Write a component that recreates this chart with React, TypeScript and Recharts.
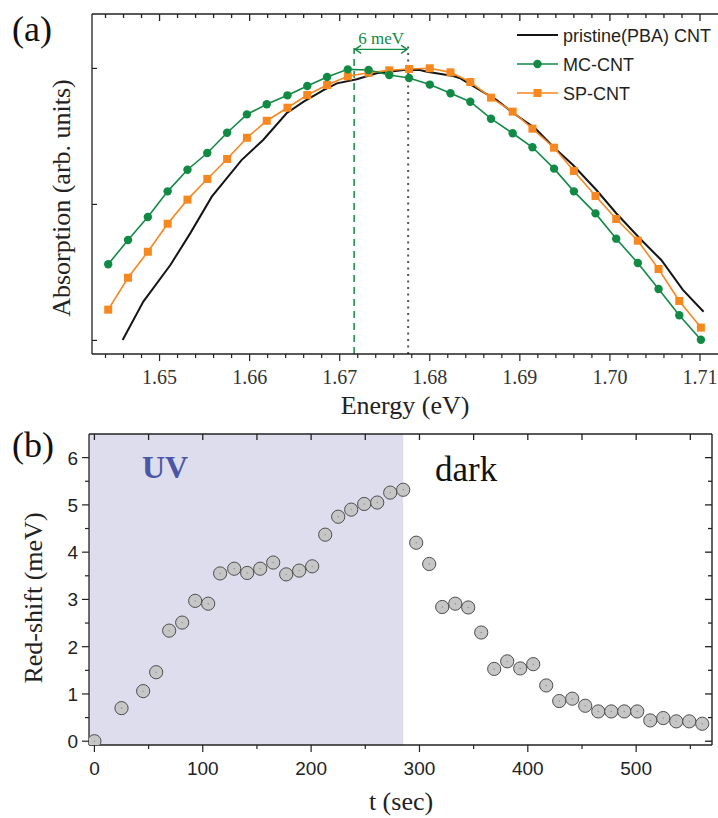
import React from 'react';
import {
    LineChart,
    Line,
    XAxis,
    YAxis,
    ReferenceLine,
    Legend,
    ScatterChart,
    Scatter,
    ReferenceArea
} from 'recharts';

const SERIF = '"Liberation Serif", "Times New Roman", serif';
const SANS = '"Liberation Sans", Arial, sans-serif';
const GREEN = '#118a45';
const ORANGE = '#f7871f';
const BLACK = '#151515';
const AXIS = '#222222';

// ---- (a) absorption spectra ----
const gridEnergy = [
    1.6443, 1.6465, 1.6487, 1.6509, 1.6531, 1.6553, 1.6575, 1.6597, 1.6619, 1.6642,
    1.6664, 1.6686, 1.6709, 1.6732, 1.6755, 1.6777, 1.6800, 1.6823, 1.6845, 1.6868,
    1.6892, 1.6914, 1.6938, 1.6960, 1.6984, 1.7007, 1.7031, 1.7054, 1.7077, 1.7101
];
const mcAbsorption = [
    1.560, 1.738, 1.907, 2.096, 2.255, 2.378, 2.527, 2.662, 2.736, 2.802,
    2.871, 2.937, 2.993, 2.988, 2.951, 2.929, 2.881, 2.817, 2.755, 2.630,
    2.523, 2.420, 2.263, 2.096, 1.934, 1.748, 1.569, 1.378, 1.185, 1.005
];
const spAbsorption = [
    1.226, 1.461, 1.652, 1.858, 2.035, 2.187, 2.334, 2.490, 2.615, 2.711,
    2.804, 2.878, 2.942, 2.968, 2.986, 2.996, 3.001, 2.971, 2.900, 2.785,
    2.682, 2.557, 2.417, 2.246, 2.062, 1.893, 1.733, 1.525, 1.290, 1.094
];
const pristineEnergy = [
    1.6459, 1.6482, 1.6512, 1.6534, 1.6558, 1.6591, 1.6615, 1.6641, 1.6660, 1.6682,
    1.6697, 1.6719, 1.6741, 1.6771, 1.6789, 1.6797, 1.6826, 1.6834, 1.6852, 1.6874,
    1.6893, 1.6917, 1.6937, 1.6959, 1.6985, 1.7007, 1.7033, 1.7057, 1.7081, 1.7104
];
const pristineAbsorption = [
    1.003, 1.285, 1.554, 1.787, 2.057, 2.326, 2.474, 2.670, 2.755, 2.841,
    2.890, 2.920, 2.964, 2.988, 2.988, 2.976, 2.944, 2.927, 2.854, 2.768,
    2.670, 2.560, 2.424, 2.290, 2.106, 1.935, 1.751, 1.591, 1.371, 1.211
];
const energyLabels = [1.65, 1.66, 1.67, 1.68, 1.69, 1.70, 1.71];
const absorptionTicks = [1, 2, 3];
const energyDomain: [number, number] = [1.6425, 1.712];
const absorptionDomain: [number, number] = [0.9, 3.4];
const peakMC = 1.6716;
const peakPristine = 1.6776;

// ---- (b) red-shift vs time ----
const timeSec = [
    0, 25, 45, 57, 69, 81, 93, 105, 116, 129, 141, 153, 165, 177, 189, 201,
    213, 225, 237, 249, 261, 273, 285, 297, 309, 321, 333, 345, 357, 369, 381,
    393, 405, 417, 429, 441, 453, 465, 477, 489, 501, 513, 525, 537, 549, 561
];
const redShift = [
    0, 0.70, 1.06, 1.46, 2.34, 2.51, 2.97, 2.91, 3.55, 3.65, 3.56, 3.65, 3.78, 3.53, 3.61, 3.70,
    4.37, 4.75, 4.90, 5.02, 5.05, 5.26, 5.32, 4.20, 3.75, 2.84, 2.91, 2.83, 2.30, 1.53, 1.69,
    1.54, 1.63, 1.18, 0.85, 0.90, 0.75, 0.63, 0.63, 0.63, 0.63, 0.44, 0.49, 0.42, 0.42, 0.37
];
const uvEnd = 285;
const timeLabels = [0, 100, 200, 300, 400, 500];
const shiftLabels = [0, 1, 2, 3, 4, 5, 6];
const timeDomain: [number, number] = [-5, 570];
const shiftDomain: [number, number] = [-0.08, 6.5];

const energyTicks = Array.from({ length: 34 }, (_, i) => +(1.644 + i * 0.002).toFixed(3));
const timeTicks = Array.from({ length: 12 }, (_, i) => i * 50);
const shiftTicks = Array.from({ length: 13 }, (_, i) => i * 0.5);

const mcData = gridEnergy.map((e, i) => ({ e, v: mcAbsorption[i] }));
const spData = gridEnergy.map((e, i) => ({ e, v: spAbsorption[i] }));
const pristineData = pristineEnergy.map((e, i) => ({ e, v: pristineAbsorption[i] }));
const shiftData = timeSec.map((t, i) => ({ t, s: redShift[i] }));

// plot boxes (page pixels) that follow from the chart sizes and margins below
const boxA = { left: 92, right: 718, top: 14, bottom: 354 };
const boxB = { left: 89, right: 712, top: 434, bottom: 745 };

const isMajorEnergy = (v: number) => energyLabels.some(m => Math.abs(m - v) < 1e-6);
const lerp = (v: number, d: [number, number], a: number, b: number) => a + ((v - d[0]) / (d[1] - d[0])) * (b - a);

const EnergyTickBottom = ({ x, y, payload }: any) => {
    const major = isMajorEnergy(payload.value);
    return (
        <g>
            <line x1={x} x2={x} y1={y} y2={y + (major ? 7 : 4)} stroke={AXIS} strokeWidth={1.2} />
            {major && (
                <text x={x} y={y + 30} textAnchor="middle" fontFamily={SERIF} fontSize={20} fill="#333">
                    {payload.value.toFixed(2)}
                </text>
            )}
        </g>
    );
};

const AbsTickLeft = ({ x, y }: any) => (
    <line x1={x} x2={x + 5} y1={y} y2={y} stroke={AXIS} strokeWidth={1.2} />
);

const TimeTickBottom = ({ x, y, payload }: any) => {
    const major = timeLabels.includes(payload.value);
    return (
        <g>
            <line x1={x} x2={x} y1={y} y2={y + (major ? 7 : 4)} stroke={AXIS} strokeWidth={1.2} />
            {major && (
                <text x={x} y={y + 30} textAnchor="middle" fontFamily={SANS} fontSize={19} fill="#222">
                    {payload.value}
                </text>
            )}
        </g>
    );
};

const ShiftTickLeft = ({ x, y, payload }: any) => {
    const major = shiftLabels.includes(payload.value);
    return (
        <g>
            <line x1={x - (major ? 7 : 4)} x2={x} y1={y} y2={y} stroke={AXIS} strokeWidth={1.2} />
            {major && (
                <text x={x - 11} y={y + 7} textAnchor="end" fontFamily={SANS} fontSize={19} fill="#222">
                    {payload.value}
                </text>
            )}
        </g>
    );
};

const SquareDot = ({ cx, cy, index }: any) => (
    <rect key={`sq-${index}`} x={cx - 4} y={cy - 4} width={8} height={8} fill={ORANGE} />
);

const DoubleArrow = ({ x1, y1, x2, y2 }: any) => (
    <g stroke={GREEN} strokeWidth={1.4} fill="none">
        <line x1={x1 + 1} y1={y1} x2={x2 - 1} y2={y2} />
        <polyline points={`${x1 + 7},${y1 - 4} ${x1 + 1},${y1} ${x1 + 7},${y1 + 4}`} />
        <polyline points={`${x2 - 7},${y2 - 4} ${x2 - 1},${y2} ${x2 - 7},${y2 + 4}`} />
    </g>
);

const legendItems = [
    { name: 'pristine(PBA) CNT', color: BLACK, marker: 'none' },
    { name: 'MC-CNT', color: GREEN, marker: 'circle' },
    { name: 'SP-CNT', color: ORANGE, marker: 'square' }
];

const AbsLegend = () => (
    <svg width={208} height={90}>
        {legendItems.map((item, i) => {
            const cy = 15 + i * 29;
            return (
                <g key={item.name}>
                    <line x1={7} x2={48} y1={cy} y2={cy} stroke={item.color} strokeWidth={item.marker === 'none' ? 2 : 1.6} />
                    {item.marker === 'circle' && <circle cx={27.5} cy={cy} r={4.2} fill={item.color} />}
                    {item.marker === 'square' && <rect x={23.5} y={cy - 4} width={8} height={8} fill={item.color} />}
                    <text x={53} y={cy + 6.5} fontFamily={SANS} fontSize={18} fill="#231f20">{item.name}</text>
                </g>
            );
        })}
    </svg>
);

const ShiftMarker = ({ cx, cy }: any) => (
    <g>
        <circle cx={cx} cy={cy} r={6.6} fill="#c6c6c6" stroke="#4d4d4d" strokeWidth={1} />
        <circle cx={cx} cy={cy} r={0.7} fill="#8a8a8a" />
    </g>
);

const FrameLine = (p: { x1: number; x2: number; y1: number; y2: number; w?: number }) => (
    <path
        d={`M${p.x1},${p.y1}L${p.x2},${p.y2}`}
        stroke={AXIS}
        strokeWidth={p.w ?? 1.3}
        fill="none"
    />
);

// top / right frame of both panels, with inward ticks
const Frames = () => (
    <g>
        <FrameLine x1={boxA.left} x2={boxA.right} y1={boxA.top} y2={boxA.top} w={1.4} />
        {energyTicks.map(v => {
            const x = lerp(v, energyDomain, boxA.left, boxA.right);
            return <FrameLine key={`ea-${v}`} x1={x} x2={x} y1={boxA.top} y2={boxA.top + (isMajorEnergy(v) ? 7 : 4)} />;
        })}
        <FrameLine x1={boxB.left} x2={boxB.right} y1={boxB.top} y2={boxB.top} w={1.4} />
        <FrameLine x1={boxB.right} x2={boxB.right} y1={boxB.top} y2={boxB.bottom} w={1.4} />
        {timeTicks.map(v => {
            const x = lerp(v, timeDomain, boxB.left, boxB.right);
            return <FrameLine key={`tb-${v}`} x1={x} x2={x} y1={boxB.top} y2={boxB.top + 6} />;
        })}
        {shiftTicks.map(v => {
            const y = lerp(v, shiftDomain, boxB.bottom, boxB.top);
            return <FrameLine key={`sb-${v}`} x1={boxB.right} x2={boxB.right - (shiftLabels.includes(v) ? 7 : 4)} y1={y} y2={y} />;
        })}
    </g>
);

const App = () => {
    return (
        <div style={{ position: 'absolute', left: 0, top: 0, width: 718, height: 818, background: '#fff', overflow: 'hidden' }}>
            <div style={{ position: 'absolute', left: 0, top: 0 }}>
                <LineChart width={718} height={400} margin={{ top: 14, right: 0, bottom: 0, left: 0 }}>
                    <XAxis
                        dataKey="e"
                        type="number"
                        domain={energyDomain}
                        allowDataOverflow
                        ticks={energyTicks}
                        interval={0}
                        height={46}
                        tickSize={0}
                        tickMargin={0}
                        tickLine={false}
                        tick={<EnergyTickBottom />}
                        axisLine={{ stroke: AXIS, strokeWidth: 1.3 }}
                    />
                    <YAxis
                        type="number"
                        domain={absorptionDomain}
                        allowDataOverflow
                        ticks={absorptionTicks}
                        width={92}
                        tickSize={0}
                        tickMargin={0}
                        tickLine={false}
                        tick={<AbsTickLeft />}
                        axisLine={{ stroke: AXIS, strokeWidth: 1.3 }}
                    />
                    <ReferenceLine
                        segment={[{ x: peakMC, y: absorptionDomain[0] }, { x: peakMC, y: 3.15 }]}
                        stroke={GREEN}
                        strokeWidth={1.5}
                        strokeDasharray="7 5"
                    />
                    <ReferenceLine
                        segment={[{ x: peakPristine, y: absorptionDomain[0] }, { x: peakPristine, y: 3.165 }]}
                        stroke="#555"
                        strokeWidth={2}
                        strokeDasharray="2 4.5"
                    />
                    <ReferenceLine
                        segment={[{ x: peakMC, y: 3.14 }, { x: peakPristine, y: 3.14 }]}
                        shape={<DoubleArrow />}
                        label={{ value: '6 meV', position: 'top', offset: 5, fill: GREEN, fontFamily: SERIF, fontSize: 17 }}
                    />
                    <Line
                        data={pristineData}
                        dataKey="v"
                        type="linear"
                        stroke={BLACK}
                        strokeWidth={2}
                        dot={false}
                        isAnimationActive={false}
                    />
                    <Line
                        data={spData}
                        dataKey="v"
                        type="linear"
                        stroke={ORANGE}
                        strokeWidth={1.6}
                        dot={<SquareDot />}
                        isAnimationActive={false}
                    />
                    <Line
                        data={mcData}
                        dataKey="v"
                        type="linear"
                        stroke={GREEN}
                        strokeWidth={1.6}
                        dot={{ r: 4.2, fill: GREEN, stroke: 'none' }}
                        isAnimationActive={false}
                    />
                    <Legend
                        layout="vertical"
                        verticalAlign="middle"
                        align="center"
                        wrapperStyle={{ left: 510, top: 20, width: 208, height: 90 }}
                        content={<AbsLegend />}
                    />
                </LineChart>
            </div>

            <div style={{ position: 'absolute', left: 0, top: 400 }}>
                <ScatterChart width={718} height={418} margin={{ top: 34, right: 6, bottom: 0, left: 0 }}>
                    <XAxis
                        dataKey="t"
                        type="number"
                        domain={timeDomain}
                        allowDataOverflow
                        ticks={timeTicks}
                        interval={0}
                        height={73}
                        tickSize={0}
                        tickMargin={0}
                        tickLine={false}
                        tick={<TimeTickBottom />}
                        axisLine={{ stroke: AXIS, strokeWidth: 1.3 }}
                    />
                    <YAxis
                        dataKey="s"
                        type="number"
                        domain={shiftDomain}
                        allowDataOverflow
                        ticks={shiftTicks}
                        interval={0}
                        width={89}
                        tickSize={0}
                        tickMargin={0}
                        tickLine={false}
                        tick={<ShiftTickLeft />}
                        axisLine={{ stroke: AXIS, strokeWidth: 1.3 }}
                    />
                    <ReferenceArea
                        x1={timeDomain[0]}
                        x2={uvEnd}
                        y1={shiftDomain[0]}
                        y2={shiftDomain[1]}
                        fill="#dddded"
                        fillOpacity={1}
                        stroke="none"
                    />
                    <Scatter
                        data={shiftData}
                        shape={<ShiftMarker />}
                        isAnimationActive={false}
                    />
                </ScatterChart>
            </div>

            <svg width={718} height={818} style={{ position: 'absolute', left: 0, top: 0, pointerEvents: 'none' }}>
                <Frames />
                <text x={12} y={41} fontFamily={SERIF} fontSize={36} fill="#111">(a)</text>
                <text x={12} y={457} fontFamily={SERIF} fontSize={36} fill="#111">(b)</text>
                <text x={70} y={198} transform="rotate(-90 70 198)" textAnchor="middle" fontFamily={SERIF} fontSize={26} fill="#222">
                    Absorption (arb. units)
                </text>
                <text x={405} y={414} textAnchor="middle" fontFamily={SERIF} fontSize={26} fill="#222">
                    Energy (eV)
                </text>
                <text x={42} y={598} transform="rotate(-90 42 598)" textAnchor="middle" fontFamily={SERIF} fontSize={26} fill="#222">
                    Red-shift (meV)
                </text>
                <text x={401} y={810} textAnchor="middle" fontFamily={SERIF} fontSize={26} fill="#222">
                    t (sec)
                </text>
                <text x={142} y={478} fontFamily={SERIF} fontWeight="bold" fontSize={32} fill="#4b55a5">UV</text>
                <text x={435} y={481} fontFamily={SERIF} fontSize={35} fill="#111">dark</text>
            </svg>
        </div>
    );
};

export default App;
